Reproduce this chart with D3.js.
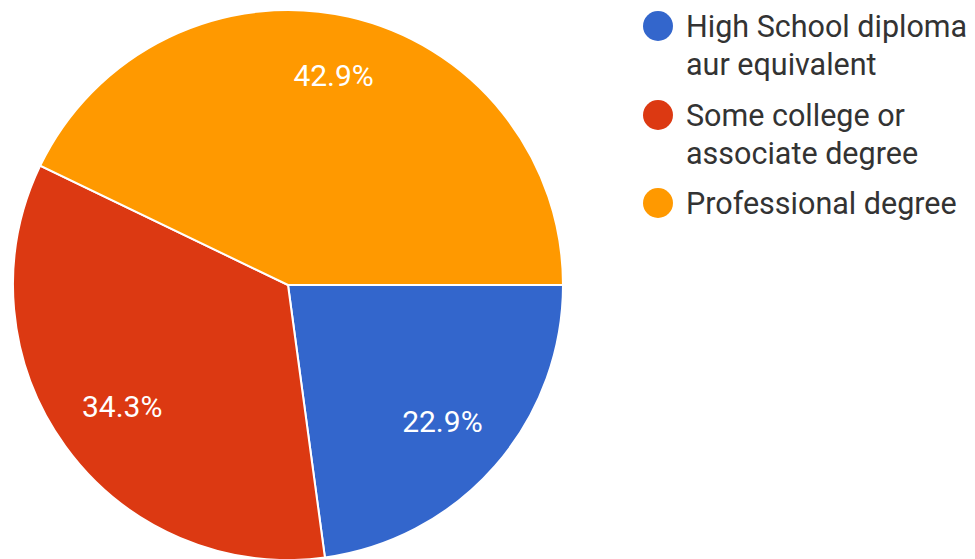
<!DOCTYPE html>
<html>
<head>
<meta charset="utf-8">
<script src="https://cdn.jsdelivr.net/npm/d3@7"></script>
<style>
  html, body { margin: 0; padding: 0; background: #fff; }
  svg { display: block; }
</style>
</head>
<body>
<svg id="chart" width="975" height="559"></svg>
<script>
// Responses by education level (counts out of 35)
const categories = ["High School diploma aur equivalent", "Some college or associate degree", "Professional degree"];
const legendLines = [["High School diploma", "aur equivalent"], ["Some college or", "associate degree"], ["Professional degree"]];
const counts = [8, 12, 15];
const colors = ["#3366cc", "#dc3912", "#ff9900"];

const svg = d3.select("#chart");
const cx = 288, cy = 285, radius = 275;
const total = d3.sum(counts);

const data = categories.map((c, i) => ({ name: c, value: counts[i], color: colors[i] }));

// Slices start at 3 o'clock and run clockwise in data order
const pie = d3.pie().value(d => d.value).sort(null)
  .startAngle(Math.PI / 2).endAngle(Math.PI / 2 + 2 * Math.PI);
const arcs = pie(data);

const arc = d3.arc().innerRadius(0).outerRadius(radius);

// Percentage labels sit on a slightly taller-than-wide ring inside the pie
const labelRx = 205, labelRy = 212, labelShiftY = -3;
function labelPos(d) {
  const a = (d.startAngle + d.endAngle) / 2;
  return [labelRx * Math.sin(a), -labelRy * Math.cos(a) + labelShiftY];
}

const g = svg.append("g").attr("transform", `translate(${cx},${cy})`);

g.selectAll("path.slice")
  .data(arcs)
  .join("path")
  .attr("class", "slice")
  .attr("d", arc)
  .attr("fill", d => d.data.color)
  .attr("stroke", "#fff")
  .attr("stroke-width", 2);

const fmt = d3.format(".1%");
g.selectAll("text.pct")
  .data(arcs)
  .join("text")
  .attr("class", "pct")
  .attr("transform", d => `translate(${labelPos(d)})`)
  .attr("text-anchor", "middle")
  .attr("dy", "0.36em")
  .attr("font-family", "Roboto, 'Noto Sans', sans-serif")
  .attr("font-size", 30)
  .attr("fill", "#fff")
  .text(d => fmt(d.data.value / total));

// Legend
const legend = svg.append("g").attr("transform", "translate(658,0)");
const rowY = [26, 115, 203];
const lineH = 38;

const items = legend.selectAll("g.item")
  .data(data)
  .join("g")
  .attr("class", "item")
  .attr("transform", (d, i) => `translate(0,${rowY[i]})`);

items.append("circle")
  .attr("r", 15)
  .attr("fill", d => d.color);

items.append("text")
  .attr("x", 28)
  .attr("y", 0)
  .attr("font-family", "Roboto, 'Noto Sans', sans-serif")
  .attr("font-size", 30.5)
  .attr("fill", "#333")
  .selectAll("tspan")
  .data((d, i) => legendLines[i])
  .join("tspan")
  .attr("x", 28)
  .attr("dy", (t, j) => j === 0 ? "0.36em" : lineH)
  .text(t => t);
</script>
</body>
</html>
